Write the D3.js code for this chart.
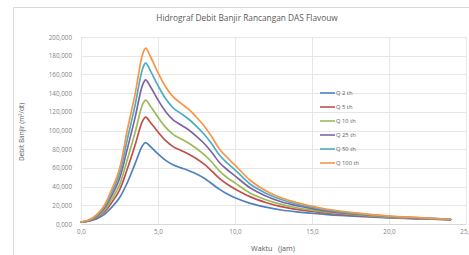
<!DOCTYPE html>
<html>
<head>
<meta charset="utf-8">
<script src="https://cdnjs.cloudflare.com/ajax/libs/d3/7.8.5/d3.min.js"></script>
<style>
    body { margin: 0; background: #fff; font-family: 'Open Sans', 'Liberation Sans', sans-serif; }
    svg { display: block; }
</style>
</head>
<body>
<div id="chart"></div>
<script>

// time (jam)
var waktu = [0, 0.5, 1, 1.5, 2, 2.5, 3, 3.5, 4, 4.2, 4.5, 5, 5.5, 6, 6.5, 7, 7.5, 8, 8.5, 9, 9.5, 10, 11, 12, 13, 14, 15, 16, 18, 20, 22, 24];

// debit (m3/dt) per return period
var q2   = [2.0, 3.0, 5.5, 10.0, 18.0, 28.0, 44.0, 64.0, 84.0, 87.0, 83.0, 75.0, 68.0, 63.0, 60.0, 57.0, 53.5, 49.0, 43.0, 37.0, 32.0, 28.0, 22.0, 18.0, 15.0, 13.0, 11.5, 10.0, 8.0, 6.5, 5.5, 4.5];
var q5   = [2.0, 3.3, 6.6, 12.6, 23.1, 36.3, 58.5, 83.8, 110.2, 114.2, 108.9, 98.4, 89.1, 82.5, 78.6, 74.6, 69.8, 64.0, 56.5, 48.5, 42.5, 37.5, 29.0, 23.0, 18.5, 15.6, 13.5, 11.5, 9.0, 7.0, 5.8, 4.7];
var q10  = [2.0, 3.5, 7.4, 14.3, 26.6, 41.9, 68.5, 97.2, 127.9, 132.5, 126.3, 114.1, 103.3, 95.6, 91.0, 86.4, 80.8, 74.1, 66.0, 56.5, 49.5, 44.0, 33.0, 26.0, 21.0, 17.4, 14.8, 12.6, 9.6, 7.4, 6.1, 4.8];
var q25  = [2.0, 3.8, 8.3, 16.3, 30.6, 48.5, 80.0, 113.0, 148.8, 154.2, 147.0, 132.7, 120.1, 111.2, 105.8, 100.5, 93.8, 86.1, 76.5, 65.5, 58.0, 51.5, 38.5, 30.0, 23.8, 19.6, 16.5, 13.8, 10.4, 7.9, 6.3, 4.9];
var q50  = [2.0, 4.0, 9.0, 18.0, 34.0, 54.0, 90.0, 126.0, 166.0, 172.0, 164.0, 148.0, 134.0, 124.0, 118.0, 112.0, 104.5, 96.0, 85.5, 73.5, 65.0, 58.0, 42.5, 33.0, 26.2, 21.3, 17.9, 14.9, 11.0, 8.2, 6.6, 5.0];
var q100 = [2.0, 4.2, 9.7, 19.5, 37.0, 58.9, 100.0, 137.8, 181.6, 188.2, 179.4, 161.9, 146.5, 135.6, 129.0, 122.5, 114.2, 104.9, 93.0, 80.0, 71.0, 63.0, 46.5, 35.5, 28.0, 22.8, 19.1, 15.8, 11.6, 8.5, 6.8, 5.1];

var seriesNames = ["Q 2 th", "Q 5 th", "Q 10 th", "Q 25 th", "Q 50 th", "Q 100 th"];
var seriesValues = [q2, q5, q10, q25, q50, q100];
var seriesColors = ["#4F81BD", "#C0504D", "#9BBB59", "#8064A2", "#4BACC6", "#F79646"];

var xTicks = [0, 5, 10, 15, 20, 25];
var yTicks = [0, 20, 40, 60, 80, 100, 120, 140, 160, 180, 200];

var width = 469, height = 255;

var svg = d3.select("#chart")
    .append("svg")
    .attr("width", width)
    .attr("height", height);

// chart frame
svg.append("rect")
    .attr("x", 13.5)
    .attr("y", 7.5)
    .attr("width", 480)
    .attr("height", 260)
    .style("fill", "white")
    .style("stroke", "#d9d9d9")
    .style("stroke-width", "1px");

var xScale = d3.scaleLinear()
    .domain([0, 25])
    .range([81, 466]);

var yScale = d3.scaleLinear()
    .domain([0, 200])
    .range([224, 37]);

function komma(fmt) {
    var f = d3.format(fmt);
    return function(d) { return f(d).replace(".", ","); };
}

// gridlines
svg.append("g").selectAll("line")
    .data(yTicks)
    .enter().append("line")
    .attr("x1", xScale(0))
    .attr("x2", xScale(25))
    .attr("y1", function(d) { return Math.round(yScale(d)) + 0.5; })
    .attr("y2", function(d) { return Math.round(yScale(d)) + 0.5; })
    .style("stroke", "#e6e6e6")
    .style("stroke-width", "1px");

svg.append("g").selectAll("line")
    .data(xTicks)
    .enter().append("line")
    .attr("x1", function(d) { return Math.round(xScale(d)) + 0.5; })
    .attr("x2", function(d) { return Math.round(xScale(d)) + 0.5; })
    .attr("y1", yScale(200))
    .attr("y2", yScale(0))
    .style("stroke", "#e6e6e6")
    .style("stroke-width", "1px");

// axes (labels only, Excel style)
var yAxis = d3.axisLeft(yScale).tickValues(yTicks).tickFormat(komma(".3f")).tickSize(0).tickPadding(9);
var gy = svg.append("g")
    .attr("transform", "translate(" + xScale(0) + ",0)")
    .call(yAxis);
gy.select(".domain").remove();
gy.selectAll("text")
    .style("font-family", "'Open Sans', sans-serif")
    .style("font-size", "6.3px")
    .style("fill", "#7f7f7f");

var xAxis = d3.axisBottom(xScale).tickValues(xTicks).tickFormat(komma(".1f")).tickSize(0).tickPadding(6);
var gx = svg.append("g")
    .attr("transform", "translate(0," + yScale(0) + ")")
    .call(xAxis);
gx.select(".domain")
    .style("stroke", "#d9d9d9");
gx.selectAll("text")
    .style("font-family", "'Open Sans', sans-serif")
    .style("font-size", "6.3px")
    .style("fill", "#7f7f7f");

// curves
var line = d3.line()
    .x(function(d) { return xScale(d[0]); })
    .y(function(d) { return yScale(d[1]); })
    .curve(d3.curveCatmullRom.alpha(0.5));

seriesValues.forEach(function(vals, i) {
    var pts = waktu.map(function(t, j) { return [t, vals[j]]; });
    svg.append("path")
        .datum(pts)
        .attr("d", line)
        .style("fill", "none")
        .style("stroke", seriesColors[i])
        .style("stroke-width", "1.7px")
        .style("stroke-linejoin", "round")
        .style("stroke-linecap", "round");
});

// title
svg.append("text")
    .attr("x", 247)
    .attr("y", 21)
    .attr("text-anchor", "middle")
    .style("font-size", "8.3px")
    .style("fill", "#595959")
    .text("Hidrograf Debit Banjir Rancangan DAS Flavouw");

// axis titles
svg.append("text")
    .attr("transform", "translate(24,132) rotate(-90)")
    .attr("text-anchor", "middle")
    .style("font-size", "6.5px")
    .style("fill", "#595959")
    .text("Debit Banjir (m\u00B3/dt)");

svg.append("text")
    .attr("x", 273)
    .attr("y", 251)
    .attr("text-anchor", "middle")
    .attr("xml:space", "preserve")
    .style("font-size", "7.2px")
    .style("fill", "#595959")
    .style("white-space", "pre")
    .text("Waktu   (Jam)");

// legend
var legend = svg.append("g")
    .attr("transform", "translate(320,93)");

seriesNames.forEach(function(name, i) {
    legend.append("line")
        .attr("x1", 0)
        .attr("x2", 15)
        .attr("y1", i * 14)
        .attr("y2", i * 14)
        .style("stroke", seriesColors[i])
        .style("stroke-width", "1.6px");
    legend.append("text")
        .attr("x", 16)
        .attr("y", i * 14 + 2)
        .style("font-size", "5.8px")
        .style("fill", "#595959")
        .text(name);
});

</script>
</body>
</html>
